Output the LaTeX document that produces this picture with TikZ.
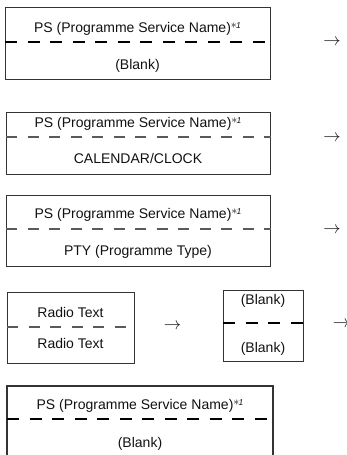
\documentclass[tikz,border=0pt]{standalone}
\usepackage{fontspec}
\setmainfont{Liberation Sans}
\definecolor{bord}{HTML}{333333}
\definecolor{txt}{HTML}{111111}
\definecolor{lgray}{HTML}{5A5A5A}
\newcommand\starone{\raisebox{3.2pt}{\fontsize{12}{12}\selectfont$\ast$\kern-0.8pt\fontsize{8.5}{9}\selectfont\textit{1}}}
\begin{document}
\begin{tikzpicture}[x=1pt,y=-1pt,
  box/.style={draw=bord, line width=1.1pt, inner sep=0pt, anchor=north west},
  thickdiv/.style={draw=black, line width=1.9pt, dash pattern=on 12pt off 10.5pt},
  thindiv/.style={draw=lgray, line width=1.3pt, dash pattern=on 11pt off 10.5pt},
  lbl/.style={text=txt, inner sep=0pt, anchor=base, font=\fontsize{14}{16}\selectfont},
  arr/.style={text=txt, inner sep=0pt, anchor=center, font=\fontsize{19}{20}\selectfont}]
\useasboundingbox (0,0) rectangle (347,455);
\clip (0,0) rectangle (347,455);
% box 1
\node[box, minimum width=265pt, minimum height=72pt] (b1) at (5,7) {};
\coordinate (d1) at (0,42);
\draw[thickdiv] (b1.west |- d1) -- (b1.east |- d1);
\node[lbl] (t1a) at (137.5,32) {PS (Programme Service Name)\starone};
\node[lbl] (t1b) at (137.5,69) {(Blank)};
\node[arr] (a1) at (332,42) {$\rightarrow$};
% box 2
\node[box, minimum width=264pt, minimum height=62pt] (b2) at (6,112) {};
\coordinate (d2) at (0,137);
\draw[thindiv] (b2.west |- d2) -- (b2.east |- d2);
\node[lbl] (t2a) at (138,127) {PS (Programme Service Name)\starone};
\node[lbl] (t2b) at (138,163) {CALENDAR/CLOCK};
\node[arr] (a2) at (332,138) {$\rightarrow$};
% box 3
\node[box, minimum width=264pt, minimum height=71pt] (b3) at (6,195) {};
\coordinate (d3) at (0,229);
\draw[thindiv] (b3.west |- d3) -- (b3.east |- d3);
\node[lbl] (t3a) at (138,218) {PS (Programme Service Name)\starone};
\node[lbl] (t3b) at (138,255) {PTY (Programme Type)};
\node[arr] (a3) at (332,230) {$\rightarrow$};
% box 4
\node[box, minimum width=127pt, minimum height=71pt] (b4) at (7,292) {};
\coordinate (d4) at (0,327);
\draw[thindiv] (b4.west |- d4) -- (b4.east |- d4);
\node[lbl] (t4a) at (70.5,317) {Radio Text};
\node[lbl] (t4b) at (70.5,348) {Radio Text};
\node[arr] (a4) at (172.5,326) {$\rightarrow$};
% box 5
\node[box, minimum width=80pt, minimum height=71pt] (b5) at (223,290) {};
\coordinate (d5) at (0,323);
\draw[thickdiv] (b5.west |- d5) -- (b5.east |- d5);
\node[lbl] (t5a) at (263,304) {(Blank)};
\node[lbl] (t5b) at (263,352) {(Blank)};
\node[arr] (a5) at (341.5,324) {$\rightarrow$};
% box 6 (open at the bottom)
\coordinate (c6a) at (7,460);
\coordinate (c6b) at (7,386);
\coordinate (c6c) at (273,386);
\coordinate (c6d) at (273,460);
\draw[draw=bord, line width=1.1pt] (c6a) -- (c6b) -- (c6c) -- (c6d);
\coordinate (d6) at (0,419);
\draw[thickdiv] (c6b |- d6) -- (c6c |- d6);
\node[lbl] (t6a) at (140,409) {PS (Programme Service Name)\starone};
\node[lbl] (t6b) at (140,447) {(Blank)};
\end{tikzpicture}
\end{document}
